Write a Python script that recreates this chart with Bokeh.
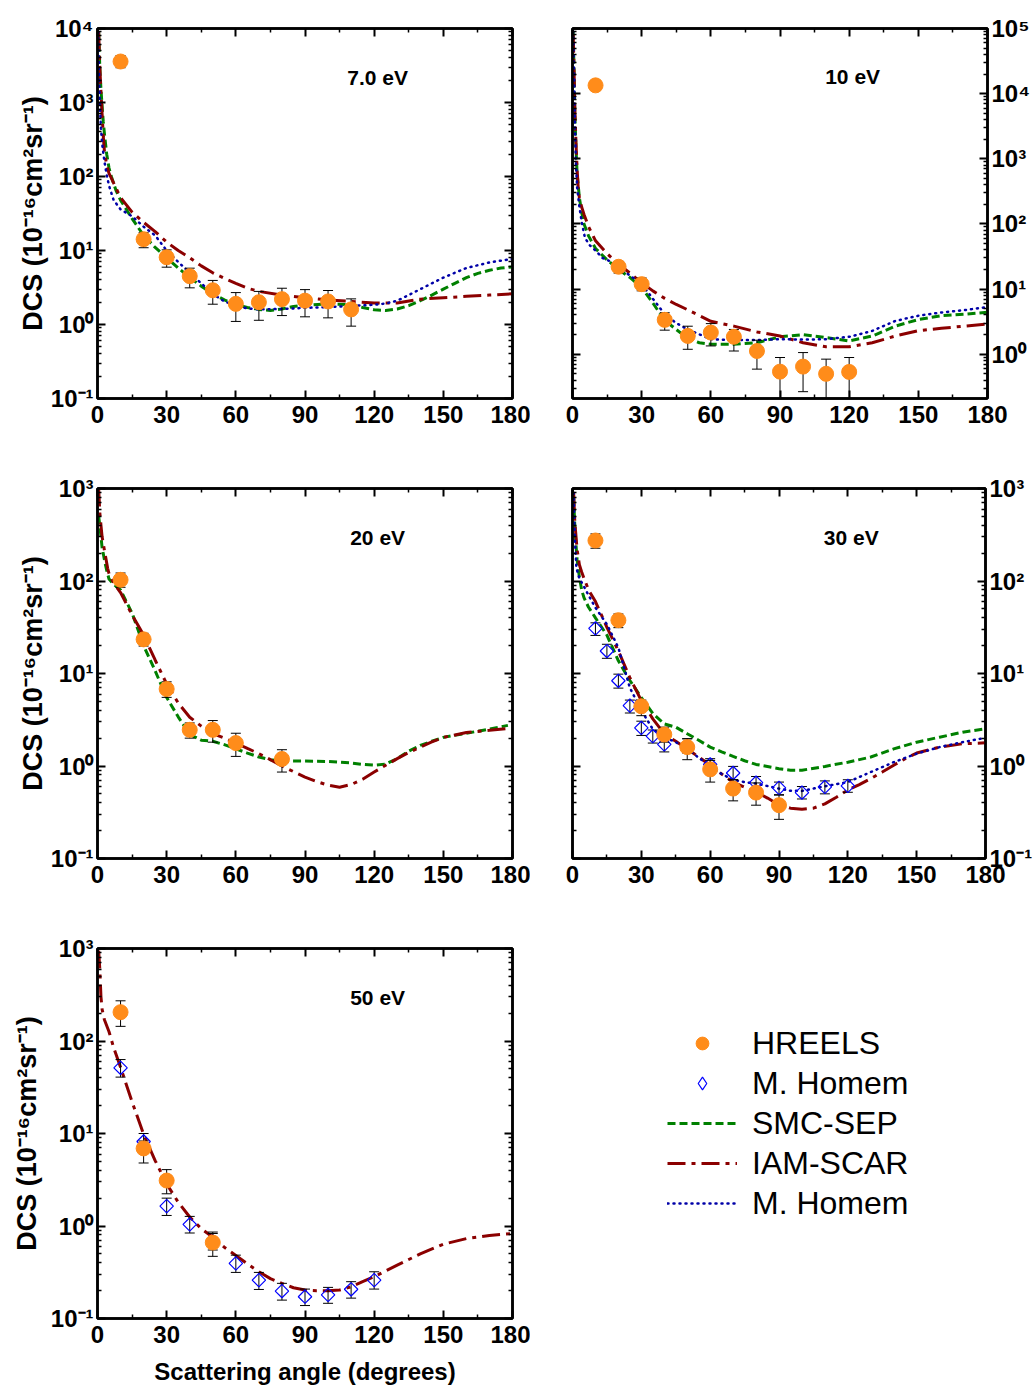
import numpy as np
from bokeh.plotting import figure
from bokeh.models import (Range1d, LinearAxis, LogAxis, FixedTicker, Label,
                          Legend, LegendItem, CustomJSTickFormatter)
from bokeh.layouts import column, row
from bokeh.embed import file_html
from bokeh.resources import INLINE

FONT = "Liberation Sans"

# ---------------- tick labels / texts ----------------
x_major_ticks = [0, 30, 60, 90, 120, 150, 180]
x_minor_ticks = [15, 45, 75, 105, 135, 165]
energy_labels = ["7.0 eV", "10 eV", "20 eV", "30 eV", "50 eV"]
energy_label_x = [121.5, 121.5, 121.5, 121.5, 121.5]
energy_label_y = [2200, 18400, 297, 297, 297]
legend_labels = ["HREELS", "M. Homem", "SMC-SEP", "IAM-SCAR", "M. Homem"]
y_title = "DCS (10\u207b\u00b9\u2076cm\u00b2sr\u207b\u00b9)"
x_title = "Scattering angle (degrees)"

# ---------------- 7.0 eV ----------------
hreels_7_ang = [10, 20, 30, 40, 50, 60, 70, 80, 90, 100, 110]
hreels_7_dcs = [3580, 14.2, 8.1, 4.5, 2.9, 1.9, 2.0, 2.2, 2.1, 2.05, 1.6]
hreels_7_lo = [2950, 10.9, 5.95, 3.13, 1.88, 1.1, 1.14, 1.32, 1.27, 1.23, 0.95]
hreels_7_hi = [4300, 17.4, 10.2, 5.77, 3.94, 2.7, 2.8, 3.09, 2.96, 2.88, 2.22]

smc_7_ang = [0.5, 1, 1.5, 2, 2.5, 3, 4, 5, 6, 8, 10, 15, 20, 25, 30, 35, 40, 45, 50, 55, 60,
             65, 70, 75, 80, 85, 90, 100, 110, 115, 120, 125, 130, 135, 140, 145, 150, 155,
             160, 165, 170, 175, 180]
smc_7_dcs = [9000, 3000, 1500, 900, 550, 380, 200, 130, 100, 65, 48, 27, 16, 11, 8.0, 5.8, 4.3,
             3.3, 2.6, 2.15, 1.85, 1.7, 1.6, 1.55, 1.62, 1.75, 1.82, 1.9, 1.85, 1.7, 1.58, 1.55,
             1.62, 1.8, 2.1, 2.5, 3.0, 3.6, 4.3, 4.9, 5.4, 5.8, 6.0]

iam_7_ang = [0.5, 1, 1.5, 2, 2.5, 3, 4, 5, 6, 8, 10, 15, 20, 25, 30, 35, 40, 45, 50, 55, 60, 65,
             70, 80, 90, 100, 110, 120, 130, 140, 150, 160, 170, 180]
iam_7_dcs = [9000, 3000, 1400, 700, 350, 220, 140, 110, 95, 70, 52, 33, 24, 18, 13, 10, 8, 6.2,
             5.0, 4.2, 3.6, 3.1, 2.8, 2.5, 2.3, 2.15, 2.05, 1.95, 1.95, 2.2, 2.3, 2.4, 2.5, 2.6]

hom_7_ang = [0.3, 0.6, 1, 1.5, 2, 3, 4, 5, 7, 10, 15, 20, 25, 30, 35, 40, 45, 50, 55, 60, 65, 70,
             80, 90, 100, 110, 120, 125, 130, 135, 140, 145, 150, 160, 170, 180]
hom_7_dcs = [9000, 3000, 1000, 450, 280, 160, 105, 75, 48, 36, 29, 21, 16, 10, 7, 5.0, 3.6, 2.6,
             2.05, 1.8, 1.65, 1.6, 1.62, 1.68, 1.72, 1.78, 1.85, 1.92, 2.1, 2.5, 3.0, 3.6, 4.3,
             5.8, 6.9, 7.7]

# ---------------- 10 eV ----------------
hreels_10_ang = [10, 20, 30, 40, 50, 60, 70, 80, 90, 100, 110, 120]
hreels_10_dcs = [13400, 22, 11.9, 3.37, 1.91, 2.15, 1.85, 1.12, 0.54, 0.645, 0.50, 0.535]
hreels_10_lo = [11300, 17.6, 9.4, 2.34, 1.19, 1.34, 1.12, 0.59, 0.1, 0.266, 0.1, 0.1]
hreels_10_hi = [16000, 26.6, 14.8, 4.33, 2.69, 2.95, 2.4, 1.64, 0.89, 1.06, 0.84, 0.89]

smc_10_ang = [0.3, 0.7, 1, 1.5, 2, 3, 4, 5, 7, 10, 15, 20, 25, 30, 35, 40, 45, 50, 55, 60, 70,
              80, 90, 100, 110, 120, 130, 140, 150, 160, 170, 180]
smc_10_dcs = [90000, 20000, 5000, 1500, 600, 250, 150, 100, 65, 42, 28, 20, 15, 10.6, 6, 3.3,
              2.4, 1.75, 1.5, 1.42, 1.42, 1.5, 1.85, 2.0, 1.8, 1.6, 1.9, 2.7, 3.4, 3.9, 4.1, 4.4]

iam_10_ang = [0.3, 0.7, 1, 1.5, 2, 2.5, 3, 4, 5, 7, 10, 15, 20, 25, 30, 35, 40, 45, 50, 60, 70,
              80, 90, 100, 110, 120, 130, 140, 150, 160, 170, 180]
iam_10_dcs = [80000, 20000, 6000, 1800, 700, 350, 250, 180, 140, 90, 55, 35, 24, 17.5, 12.5,
              9.3, 7.2, 5.8, 4.8, 3.2, 2.7, 2.2, 1.9, 1.5, 1.3, 1.3, 1.5, 1.9, 2.3, 2.5, 2.7, 2.9]

hom_10_ang = [0.3, 0.7, 1, 1.5, 2, 3, 4, 5.4, 7.5, 10, 13, 16, 20, 25, 30, 35, 40, 45, 50, 60,
              70, 80, 90, 100, 110, 120, 130, 140, 150, 160, 170, 180]
hom_10_dcs = [90000, 20000, 4000, 850, 365, 183, 106, 61, 47, 39, 30, 27, 22, 16, 12, 7, 4.1,
              3.0, 2.4, 1.7, 1.65, 1.65, 1.7, 1.68, 1.7, 1.85, 2.28, 3.24, 3.9, 4.37, 4.75, 5.3]

# ---------------- 20 eV ----------------
hreels_20_ang = [10, 20, 30, 40, 50, 60, 80]
hreels_20_dcs = [103, 23.4, 6.8, 2.46, 2.46, 1.77, 1.19]
hreels_20_lo = [85.5, 19.8, 5.52, 2.0, 1.81, 1.27, 0.86]
hreels_20_hi = [122, 27.2, 8.13, 2.92, 3.1, 2.26, 1.5]

smc_20_ang = [0.5, 1, 1.5, 2, 3, 4, 5, 7, 10, 15, 20, 25, 30, 35, 40, 45, 50, 55, 60, 65, 70, 75,
              80, 90, 100, 110, 115, 120, 125, 130, 135, 140, 145, 150, 160, 170, 178]
smc_20_dcs = [500, 400, 300, 230, 170, 130, 105, 92, 80, 45, 20, 10.7, 5.5, 3.4, 2.2, 1.9, 1.85,
              1.7, 1.53, 1.38, 1.25, 1.17, 1.13, 1.13, 1.12, 1.08, 1.04, 1.02, 1.05, 1.2, 1.45,
              1.67, 1.85, 2.04, 2.26, 2.5, 2.75]

iam_20_ang = [0.5, 1, 1.5, 2, 3, 4.4, 5, 7, 10, 15, 20, 25, 30, 35, 40, 45, 50, 55, 60, 65, 70,
              75, 80, 85, 90, 95, 100, 105, 110, 115, 120, 125, 130, 135, 140, 145, 150, 160,
              170, 178]
iam_20_dcs = [1000, 550, 400, 300, 215, 137, 120, 95, 75, 43, 26, 14, 7.7, 4.8, 3.37, 2.7, 2.24,
              2.0, 1.77, 1.55, 1.36, 1.17, 1.0, 0.87, 0.76, 0.68, 0.62, 0.59, 0.63, 0.72, 0.86,
              1.02, 1.2, 1.4, 1.6, 1.82, 2.04, 2.3, 2.43, 2.55]

# ---------------- 30 eV ----------------
hreels_30_ang = [10, 20, 30, 40, 50, 60, 70, 80, 90]
hreels_30_dcs = [274, 37.7, 4.42, 2.19, 1.6, 0.92, 0.57, 0.516, 0.377]
hreels_30_lo = [226, 31.3, 3.5, 1.81, 1.17, 0.67, 0.42, 0.377, 0.265]
hreels_30_hi = [323, 44, 5.16, 2.63, 1.97, 1.15, 0.71, 0.656, 0.484]

homem_30_ang = [10, 15, 20, 25, 30, 35, 40, 50, 60, 70, 80, 90, 100, 110, 120]
homem_30_dcs = [30.7, 17.5, 8.34, 4.49, 2.58, 2.1, 1.71, 1.64, 1.04, 0.84, 0.66, 0.58, 0.516,
                0.594, 0.61]
homem_30_lo = [25.8, 14.6, 6.95, 3.74, 2.14, 1.77, 1.42, 1.38, 0.90, 0.71, 0.557, 0.49, 0.44,
               0.50, 0.52]
homem_30_hi = [35.3, 20.7, 9.84, 5.16, 3.05, 2.45, 2.0, 1.97, 1.2, 0.99, 0.77, 0.67, 0.60,
               0.69, 0.71]

smc_30_ang = [0.5, 1, 1.5, 2, 3, 4, 5, 7, 10, 15, 20, 25, 30, 35, 40, 45, 50, 55, 60, 65, 70,
              75, 80, 90, 95, 100, 110, 120, 130, 140, 150, 160, 170, 180]
smc_30_dcs = [800, 400, 250, 170, 110, 80, 66, 52, 40, 26, 13.7, 8.4, 5.5, 3.7, 2.85, 2.63, 2.23,
              1.9, 1.6, 1.42, 1.27, 1.14, 1.04, 0.935, 0.9, 0.9, 0.99, 1.1, 1.25, 1.53, 1.81,
              2.05, 2.32, 2.52]

iam_30_ang = [0.5, 1, 2, 3, 4, 5, 7, 10, 15, 20, 25, 30, 35, 40, 45, 50, 55, 60, 65, 70, 75, 80,
              85, 90, 95, 100, 105, 110, 115, 120, 125, 130, 135, 140, 145, 150, 160, 170, 180]
iam_30_dcs = [900, 435, 220, 150, 125, 107, 80, 60, 31.6, 17.5, 9.0, 5.1, 3.23, 2.23, 1.85, 1.53,
              1.25, 1.02, 0.82, 0.67, 0.59, 0.525, 0.45, 0.38, 0.35, 0.34, 0.35, 0.39, 0.46,
              0.55, 0.63, 0.73, 0.86, 1.02, 1.2, 1.38, 1.6, 1.74, 1.78]

hom_30_ang = [0.5, 1, 1.7, 3, 5, 7, 10, 15, 20, 25, 30, 35, 40, 45, 50, 55, 60, 65, 70, 75, 80,
              90, 95, 100, 110, 120, 130, 140, 150, 160, 170, 180]
hom_30_dcs = [900, 300, 138, 107, 87, 70, 51.5, 34, 19, 7.0, 4.0, 2.5, 2.05, 1.81, 1.53, 1.23,
              1.0, 0.82, 0.71, 0.67, 0.645, 0.57, 0.54, 0.538, 0.604, 0.67, 0.86, 1.1, 1.36,
              1.6, 1.81, 2.02]

# ---------------- 50 eV ----------------
hreels_50_ang = [10, 20, 30, 50]
hreels_50_dcs = [205, 6.9, 3.1, 0.662]
hreels_50_lo = [144, 4.8, 2.23, 0.47]
hreels_50_hi = [272, 8.3, 4.07, 0.86]

homem_50_ang = [10, 20, 30, 40, 50, 60, 70, 80, 90, 100, 110, 120]
homem_50_dcs = [51.3, 8.2, 1.64, 1.04, 0.68, 0.394, 0.26, 0.198, 0.172, 0.18, 0.207, 0.26]
homem_50_lo = [40.7, 6.8, 1.3, 0.84, 0.55, 0.315, 0.206, 0.158, 0.138, 0.146, 0.166, 0.208]
homem_50_hi = [63, 10, 2.0, 1.27, 0.83, 0.484, 0.315, 0.24, 0.208, 0.217, 0.25, 0.32]

iam_50_ang = [0.5, 1, 1.5, 2, 3, 5, 7, 10, 15, 20, 25, 30, 35, 40, 45, 50, 55, 60, 65, 70, 75,
              80, 85, 90, 95, 100, 105, 110, 115, 120, 130, 140, 150, 160, 170, 180]
iam_50_dcs = [950, 600, 300, 220, 170, 126, 85, 52, 22, 9.8, 5.1, 2.85, 1.81, 1.25, 0.935, 0.76,
              0.59, 0.48, 0.39, 0.32, 0.27, 0.24, 0.215, 0.203, 0.2, 0.2, 0.203, 0.22, 0.25,
              0.283, 0.377, 0.5, 0.635, 0.73, 0.79, 0.83]

# ---------------- styles ----------------
ORANGE = "#FF8C1A"
GREEN = "#008000"
DARKRED = "#8B0000"
NAVY = "#0000A8"
BLUE = "#0000FF"

LINE_STYLES = {
    "smc": dict(line_color=GREEN, line_dash="8 4", line_width=3),
    "iam": dict(line_color=DARKRED, line_dash="18 6 4 6", line_width=3),
    "hom": dict(line_color=NAVY, line_dash="1 5", line_width=2.5, line_cap="round"),
}

POW10_JS = """
const sup = {'-': '\\u207B', '0': '\\u2070', '1': '\\u00B9', '2': '\\u00B2', '3': '\\u00B3',
             '4': '\\u2074', '5': '\\u2075', '6': '\\u2076', '7': '\\u2077', '8': '\\u2078',
             '9': '\\u2079'};
const e = Math.round(Math.log10(tick));
return '10' + String(e).split('').map(c => sup[c]).join('');
"""


def log_ticks(lo, hi):
    kmin = int(np.floor(np.log10(lo))) - 1
    kmax = int(np.ceil(np.log10(hi))) + 1
    major = [10.0 ** k for k in range(kmin, kmax + 1) if lo * 0.999 <= 10.0 ** k <= hi * 1.001]
    minor = [m * 10.0 ** k for k in range(kmin, kmax + 1) for m in range(2, 10)
             if lo <= m * 10.0 ** k <= hi]
    return major, minor


def style_axis(ax, show):
    ax.axis_line_width = 2.5
    ax.axis_line_color = "black"
    ax.major_tick_in = 8
    ax.major_tick_out = 0
    ax.minor_tick_in = 4
    ax.minor_tick_out = 0
    ax.major_tick_line_width = 2
    ax.minor_tick_line_width = 1.5
    ax.major_tick_line_color = "black"
    ax.minor_tick_line_color = "black"
    if show:
        ax.major_label_text_font = FONT
        ax.major_label_text_font_style = "bold"
        ax.major_label_text_font_size = "24px"
        ax.major_label_text_color = "black"
    else:
        ax.formatter = CustomJSTickFormatter(code="return '';")
        ax.major_label_text_font_size = "0px"
        ax.major_label_standoff = 0


def make_panel(width, height, borders, y_lo, y_hi, label_side):
    bl, br, bt, bb = borders
    p = figure(width=width, height=height, x_range=Range1d(0, 180), y_range=Range1d(y_lo, y_hi),
               y_axis_type="log", output_backend="svg", toolbar_location=None,
               min_border_left=bl, min_border_right=br, min_border_top=bt, min_border_bottom=bb)
    p.xgrid.visible = False
    p.ygrid.visible = False
    p.outline_line_color = "black"
    p.outline_line_width = 2.5
    p.background_fill_color = "white"
    p.border_fill_color = "white"
    major, minor = log_ticks(y_lo, y_hi)
    bottom = p.below[0]
    left = p.left[0]
    top = LinearAxis()
    right = LogAxis()
    p.add_layout(top, "above")
    p.add_layout(right, "right")
    for ax in (bottom, top):
        ax.ticker = FixedTicker(ticks=x_major_ticks, minor_ticks=x_minor_ticks)
    for ax in (left, right):
        ax.ticker = FixedTicker(ticks=major, minor_ticks=minor)
    style_axis(bottom, True)
    bottom.major_label_standoff = 7
    style_axis(top, False)
    lab_ax, other = (left, right) if label_side == "left" else (right, left)
    style_axis(lab_ax, True)
    lab_ax.formatter = CustomJSTickFormatter(code=POW10_JS)
    lab_ax.major_label_standoff = 4
    style_axis(other, False)
    return p


def set_ytitle(p, standoff):
    ax = p.left[0]
    ax.axis_label = y_title
    ax.axis_label_text_font = FONT
    ax.axis_label_text_font_style = "bold"
    ax.axis_label_text_font_size = "27px"
    ax.axis_label_text_color = "black"
    ax.axis_label_standoff = standoff


def add_curve(p, ang, dcs, kind):
    p.line(ang, dcs, **LINE_STYLES[kind])


def add_points(p, ang, dcs, lo, hi, kind):
    p.segment(x0=ang, y0=lo, x1=ang, y1=hi, line_color="black", line_width=1)
    p.scatter(list(ang) + list(ang), list(lo) + list(hi), marker="dash", size=10,
              line_color="black", line_width=1)
    if kind == "hreels":
        p.scatter(ang, dcs, marker="circle", size=15, fill_color=ORANGE, line_color=ORANGE)
    else:
        p.scatter(ang, dcs, marker="square", angle=np.pi / 4, size=9.5, fill_color=None,
                  line_color=BLUE, line_width=1.2)


def add_energy_label(p, i):
    p.add_layout(Label(x=energy_label_x[i], y=energy_label_y[i], text=energy_labels[i],
                       text_font=FONT, text_font_style="bold", text_font_size="21px",
                       text_align="center", text_baseline="middle", text_color="black"))


# ---------------- panels ----------------
p1 = make_panel(530, 458, (97, 18, 28, 60), 0.1, 1e4, "left")
add_curve(p1, smc_7_ang, smc_7_dcs, "smc")
add_curve(p1, iam_7_ang, iam_7_dcs, "iam")
add_curve(p1, hom_7_ang, hom_7_dcs, "hom")
add_points(p1, hreels_7_ang, hreels_7_dcs, hreels_7_lo, hreels_7_hi, "hreels")
add_energy_label(p1, 0)
set_ytitle(p1, 0)

p2 = make_panel(505, 458, (42, 48, 28, 60), 0.209, 1e5, "right")
add_curve(p2, smc_10_ang, smc_10_dcs, "smc")
add_curve(p2, iam_10_ang, iam_10_dcs, "iam")
add_curve(p2, hom_10_ang, hom_10_dcs, "hom")
add_points(p2, hreels_10_ang, hreels_10_dcs, hreels_10_lo, hreels_10_hi, "hreels")
add_energy_label(p2, 1)

p3 = make_panel(530, 460, (97, 18, 30, 60), 0.1, 1e3, "left")
add_curve(p3, smc_20_ang, smc_20_dcs, "smc")
add_curve(p3, iam_20_ang, iam_20_dcs, "iam")
add_points(p3, hreels_20_ang, hreels_20_dcs, hreels_20_lo, hreels_20_hi, "hreels")
add_energy_label(p3, 2)
set_ytitle(p3, 0)

p4 = make_panel(505, 460, (42, 48, 30, 60), 0.1, 1e3, "right")
add_curve(p4, smc_30_ang, smc_30_dcs, "smc")
add_curve(p4, iam_30_ang, iam_30_dcs, "iam")
add_curve(p4, hom_30_ang, hom_30_dcs, "hom")
add_points(p4, homem_30_ang, homem_30_dcs, homem_30_lo, homem_30_hi, "homem")
add_points(p4, hreels_30_ang, hreels_30_dcs, hreels_30_lo, hreels_30_hi, "hreels")
add_energy_label(p4, 3)

p5 = make_panel(530, 476, (97, 18, 30, 76), 0.1, 1e3, "left")
add_curve(p5, iam_50_ang, iam_50_dcs, "iam")
add_points(p5, homem_50_ang, homem_50_dcs, homem_50_lo, homem_50_hi, "homem")
add_points(p5, hreels_50_ang, hreels_50_dcs, hreels_50_lo, hreels_50_hi, "hreels")
add_energy_label(p5, 4)
set_ytitle(p5, 6)
xb = p5.below[0]
xb.axis_label = x_title
xb.axis_label_text_font = FONT
xb.axis_label_text_font_style = "bold"
xb.axis_label_text_font_size = "24px"
xb.axis_label_text_color = "black"
xb.axis_label_standoff = 12

# ---------------- legend panel (proxies draw the same data, but off-frame) ----------------
p6 = figure(width=505, height=476, x_range=Range1d(-2, -1), y_range=Range1d(-2, -1),
            output_backend="svg", toolbar_location=None, x_axis_location=None,
            y_axis_location=None, min_border=0)
p6.outline_line_color = None
p6.grid.visible = False
r_hreels = p6.scatter(hreels_50_ang, hreels_50_dcs, marker="circle", size=14,
                      fill_color=ORANGE, line_color=ORANGE)
r_homem = p6.scatter(homem_50_ang, homem_50_dcs, marker="diamond", size=12,
                     fill_color=None, line_color=BLUE, line_width=1.2)
r_smc = p6.line(smc_30_ang, smc_30_dcs, **LINE_STYLES["smc"])
r_iam = p6.line(iam_50_ang, iam_50_dcs, **LINE_STYLES["iam"])
r_hom = p6.line(hom_30_ang, hom_30_dcs, **LINE_STYLES["hom"])
items = [LegendItem(label=lab, renderers=[r])
         for lab, r in zip(legend_labels, [r_hreels, r_homem, r_smc, r_iam, r_hom])]
legend = Legend(items=items, location=(137, 95), orientation="vertical",
                label_text_font=FONT, label_text_font_size="32px",
                label_text_font_style="normal", label_text_color="black",
                glyph_width=70, glyph_height=32, label_height=40, label_standoff=15,
                spacing=0, padding=0, margin=0, border_line_color=None,
                background_fill_alpha=0)
p6.add_layout(legend)

layout = column(row(p1, p2), row(p3, p4), row(p5, p6))
with open("out.html", "w", encoding="utf-8") as fh:
    fh.write(file_html(layout, INLINE, title="DCS"))
